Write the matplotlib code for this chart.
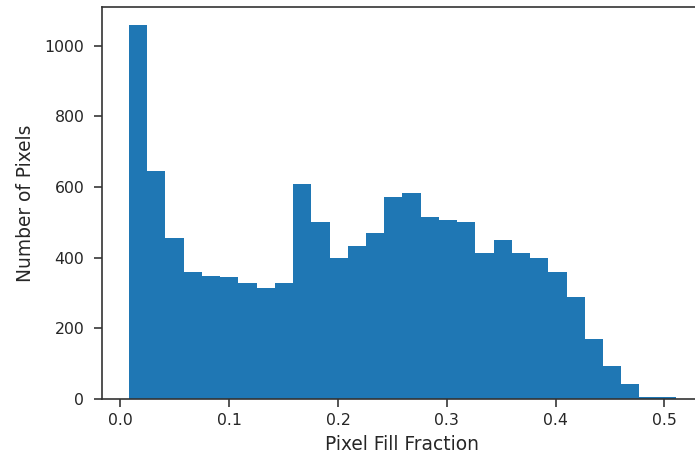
import numpy as np
import matplotlib
matplotlib.use("Agg")
import matplotlib.pyplot as plt

# Histogram of pixel fill fractions: 30 equal-width bins
bin_low = 0.0078
bin_high = 0.5106
n_bins = 30
counts = [1057, 644, 455, 358, 348, 344, 328, 314, 328, 608,
          502, 399, 434, 471, 572, 583, 516, 506, 501, 414,
          450, 414, 399, 359, 288, 170, 93, 42, 7, 6]

edges = np.linspace(bin_low, bin_high, n_bins + 1)
centers = 0.5 * (edges[:-1] + edges[1:])

plt.rcParams["font.family"] = "DejaVu Sans"

fig = plt.figure(figsize=(6.95, 4.57), dpi=100)
# axes runs slightly past the right edge of the canvas
ax = fig.add_axes([0.1463, 0.1269, 0.8656, 0.8584])
ax.hist(centers, bins=edges, weights=counts, color="#1f77b4")

ax.set_xlim(-0.0173, 0.5357)
ax.set_ylim(0, 1110)
ax.set_xlabel("Pixel Fill Fraction", fontsize=13.4, labelpad=5, color="#262626")
ax.set_ylabel("Number of Pixels", fontsize=13.4, labelpad=7, color="#262626")
ax.set_xticks([0.0, 0.1, 0.2, 0.3, 0.4, 0.5])
ax.set_yticks([0, 200, 400, 600, 800, 1000])
ax.tick_params(length=5.5, width=1.1, colors="#262626", labelsize=11.3)
ax.tick_params(axis="y", pad=7)
ax.tick_params(axis="x", pad=4.5)
ax.spines["right"].set_visible(False)
for s in ax.spines.values():
    s.set_linewidth(1.2)
    s.set_color("#333333")

fig.savefig("out.png", dpi=100)
